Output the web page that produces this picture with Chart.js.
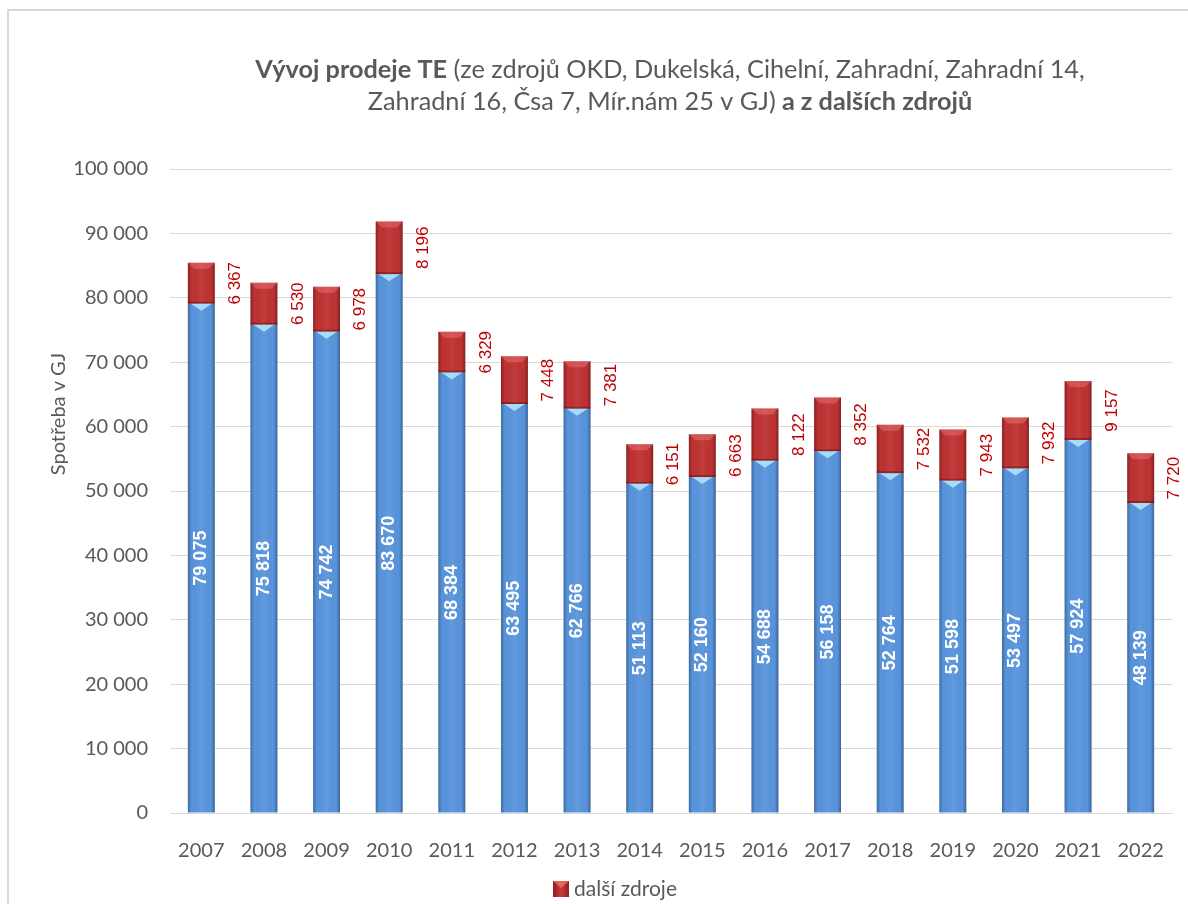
<!DOCTYPE html>
<html><head><meta charset="utf-8">
<script src="https://cdn.jsdelivr.net/npm/chart.js@4"></script>
<style>html,body{margin:0;padding:0;background:#fff;}canvas{display:block;}</style>
</head><body>
<canvas id="c" width="1188" height="904"></canvas>
<script>
const years = ['2007','2008','2009','2010','2011','2012','2013','2014','2015','2016','2017','2018','2019','2020','2021','2022'];
const mainSources = [79075,75818,74742,83670,68384,63495,62766,51113,52160,54688,56158,52764,51598,53497,57924,48139];
const otherSources = [6367,6530,6978,8196,6329,7448,7381,6151,6663,8122,8352,7532,7943,7932,9157,7720];
const seriesNames = ['zdroje (OKD, Dukelská, …)', 'další zdroje'];
const titleLine1 = [['Vývoj prodeje TE', true], [' (ze zdrojů OKD, Dukelská, Cihelní, Zahradní, Zahradní 14,', false]];
const titleLine2 = [['Zahradní 16, Čsa 7, Mír.nám 25 v GJ)', false], [' a z dalších zdrojů', true]];
const yAxisTitle = 'Spotřeba v GJ';
const yMin = 0, yMax = 100000, yStep = 10000;

const TXT = '#595959';
const FONT = 'Lato';
const fmt = n => String(Math.round(n)).replace(/\B(?=(\d{3})+(?!\d))/g, ' ');

const decorPlugin = {
  id: 'decor',
  beforeDraw(chart) {
    const ctx = chart.ctx;
    ctx.save();
    ctx.fillStyle = '#fff';
    ctx.fillRect(0, 0, chart.width, chart.height);
    ctx.strokeStyle = '#D9D9D9';
    ctx.lineWidth = 2;
    ctx.beginPath();
    ctx.moveTo(8, chart.height);
    ctx.lineTo(8, 10);
    ctx.lineTo(chart.width, 10);
    ctx.stroke();
    ctx.restore();
  },
  afterDatasetsDraw(chart) {
    const ctx = chart.ctx;
    chart.data.datasets.forEach((ds, di) => {
      const meta = chart.getDatasetMeta(di);
      meta.data.forEach((el, i) => {
        const p = el.getProps(['x', 'y', 'base', 'width'], true);
        const left = p.x - p.width / 2, right = p.x + p.width / 2;
        const top = Math.min(p.y, p.base), bottom = Math.max(p.y, p.base);
        const h = bottom - top;
        ctx.save();
        const g = ctx.createLinearGradient(left, 0, right, 0);
        g.addColorStop(0, 'rgba(0,0,0,0.28)');
        g.addColorStop(0.14, 'rgba(0,0,0,0.0)');
        g.addColorStop(0.5, 'rgba(255,255,255,0.06)');
        g.addColorStop(0.86, 'rgba(0,0,0,0.0)');
        g.addColorStop(1, 'rgba(0,0,0,0.32)');
        ctx.fillStyle = g;
        ctx.fillRect(left, top, p.width, h);
        if (di === 0) {
          ctx.fillStyle = '#A6DCFA';
          ctx.beginPath();
          ctx.moveTo(left + 3, top);
          ctx.lineTo(right - 3, top);
          ctx.lineTo(p.x, top + 7);
          ctx.closePath();
          ctx.fill();
        } else {
          const b = 6;
          ctx.fillStyle = 'rgba(255,140,140,0.35)';
          ctx.beginPath();
          ctx.moveTo(left, top);
          ctx.lineTo(right, top);
          ctx.lineTo(right - b, top + b);
          ctx.lineTo(left + b, top + b);
          ctx.closePath();
          ctx.fill();
          ctx.fillStyle = 'rgba(80,0,0,0.35)';
          ctx.fillRect(left, bottom - 2, p.width, 2);
        }
        ctx.restore();

        const val = ds.data[i];
        ctx.save();
        if (di === 0) {
          ctx.translate(p.x, (top + bottom) / 2);
          ctx.rotate(-Math.PI / 2);
          ctx.font = 'bold 18px "Liberation Sans", Arial, sans-serif';
          ctx.fillStyle = '#FFFFFF';
        } else {
          ctx.translate(p.x + 34, (top + bottom) / 2);
          ctx.rotate(-Math.PI / 2);
          ctx.font = '17px "Liberation Sans", Arial, sans-serif';
          ctx.fillStyle = '#C00000';
        }
        ctx.textAlign = 'center';
        ctx.textBaseline = 'middle';
        ctx.fillText(fmt(val), 0, 0);
        ctx.restore();
      });
    });
  },
  afterDraw(chart) {
    const ctx = chart.ctx;
    ctx.save();
    ctx.fillStyle = TXT;
    ctx.textBaseline = 'middle';
    const fontFor = (bold, s) => (bold ? 'bold ' : '') + s + 'px ' + FONT + ', sans-serif';
    const measure = (runs, s) => runs.reduce((w, r) => { ctx.font = fontFor(r[1], s); return w + ctx.measureText(r[0]).width; }, 0);
    let size = 20 * 830 / measure(titleLine1, 20);
    const drawLine = (runs, cy) => {
      let x = 670 - measure(runs, size) / 2;
      ctx.textAlign = 'left';
      runs.forEach(r => { ctx.font = fontFor(r[1], size); ctx.fillText(r[0], x, cy); x += ctx.measureText(r[0]).width; });
    };
    drawLine(titleLine1, 70);
    drawLine(titleLine2, 102);
    ctx.save();
    ctx.translate(59, 414);
    ctx.rotate(-Math.PI / 2);
    ctx.textAlign = 'center';
    ctx.font = '20px ' + FONT + ', sans-serif';
    ctx.fillText(yAxisTitle, 0, 0);
    ctx.restore();
    const lx = 553, ly = 881, ls = 16;
    const lg = ctx.createLinearGradient(lx, 0, lx + ls, 0);
    lg.addColorStop(0, '#8E1F1F'); lg.addColorStop(0.5, '#C93A3A'); lg.addColorStop(1, '#8E1F1F');
    ctx.fillStyle = lg;
    ctx.fillRect(lx, ly, ls, ls);
    ctx.fillStyle = 'rgba(255,130,130,0.6)';
    ctx.beginPath(); ctx.moveTo(lx, ly); ctx.lineTo(lx + ls, ly); ctx.lineTo(lx + ls / 2, ly + 7); ctx.closePath(); ctx.fill();
    ctx.fillStyle = TXT;
    ctx.textAlign = 'left';
    ctx.font = '21px ' + FONT + ', sans-serif';
    ctx.fillText(seriesNames[1], 574, ly + ls / 2);
    ctx.restore();
  }
};

new Chart(document.getElementById('c'), {
  type: 'bar',
  data: {
    labels: years,
    datasets: [
      { label: seriesNames[0], data: mainSources, backgroundColor: '#5894DC', borderWidth: 0, stack: 's' },
      { label: seriesNames[1], data: otherSources, backgroundColor: '#BE3232', borderWidth: 0, stack: 's' }
    ]
  },
  options: {
    responsive: false,
    animation: false,
    devicePixelRatio: 1,
    layout: { padding: { top: 169, right: 16, left: 0, bottom: 0 } },
    datasets: { bar: { categoryPercentage: 1, barPercentage: 0.43 } },
    plugins: { legend: { display: false }, title: { display: false }, tooltip: { enabled: false } },
    scales: {
      x: {
        stacked: true,
        grid: { display: false },
        border: { display: true, color: '#D9D9D9', width: 1 },
        ticks: { color: TXT, font: { family: FONT, size: 20 }, padding: 18, maxRotation: 0, autoSkip: false },
        afterFit(s) { s.height = 91; }
      },
      y: {
        stacked: true,
        min: yMin, max: yMax,
        grid: { color: '#D9D9D9', lineWidth: 1, drawTicks: false },
        border: { display: false },
        ticks: { stepSize: yStep, color: TXT, font: { family: FONT, size: 20 }, padding: 22, callback: v => fmt(v) },
        afterFit(s) { s.width = 170; }
      }
    }
  },
  plugins: [decorPlugin]
});
</script>
</body></html>
